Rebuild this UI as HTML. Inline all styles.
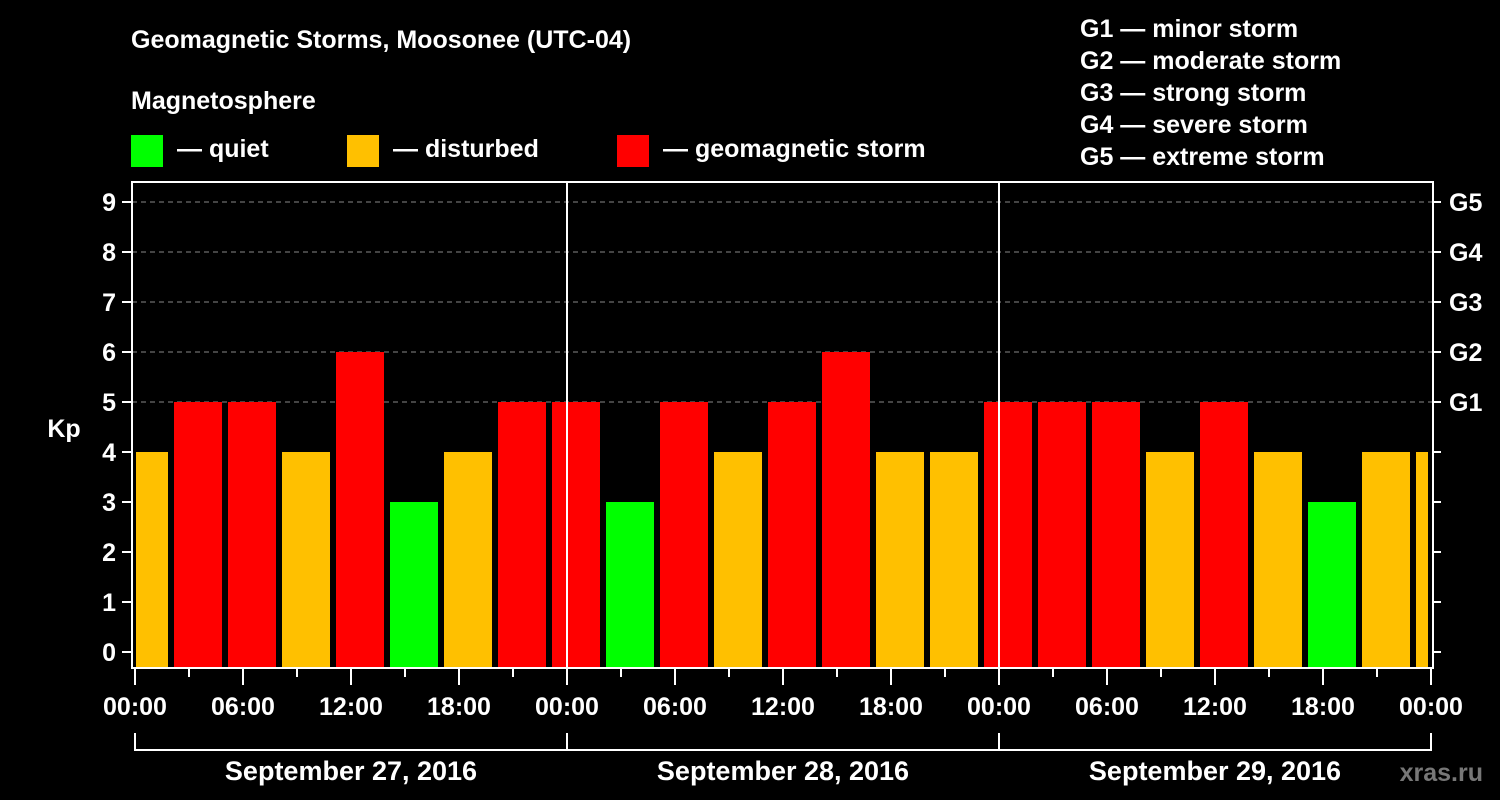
<!DOCTYPE html>
<html><head><meta charset="utf-8"><style>
html,body{margin:0;padding:0;background:#000;}
svg{display:block;font-family:"Liberation Sans",Arial,sans-serif;font-weight:bold;}
</style></head><body>
<svg id="chart" width="1500" height="800" viewBox="0 0 1500 800">
<rect x="0" y="0" width="1500" height="800" fill="#000"/>
<text x="131" y="48" fill="#fff" font-size="25">Geomagnetic Storms, Moosonee (UTC-04)</text>
<text x="131" y="109" fill="#fff" font-size="25">Magnetosphere</text>
<g><rect x="131" y="135" width="32" height="32" fill="#00ff00"/><text x="177" y="157" fill="#fff" font-size="25">— quiet</text></g>
<g><rect x="347" y="135" width="32" height="32" fill="#ffc000"/><text x="393" y="157" fill="#fff" font-size="25">— disturbed</text></g>
<g><rect x="617" y="135" width="32" height="32" fill="#ff0000"/><text x="663" y="157" fill="#fff" font-size="25">— geomagnetic storm</text></g>
<g fill="#fff" font-size="25">
<text x="1080" y="37">G1 — minor storm</text>
<text x="1080" y="69">G2 — moderate storm</text>
<text x="1080" y="101">G3 — strong storm</text>
<text x="1080" y="133">G4 — severe storm</text>
<text x="1080" y="165">G5 — extreme storm</text>
</g>
<text x="64" y="437" fill="#fff" font-size="25" text-anchor="middle">Kp</text>
<text x="1483" y="781" fill="#777" font-size="25" text-anchor="end">xras.ru</text>
<g id="grid"></g>
<g id="bars"></g>
<g id="axes"></g>
</svg>
<script>
const kpValues=[4,5,5,4,6,3,4,5,5,3,5,4,5,6,4,4,5,5,5,4,5,4,3,4,4];
const yTicks=[0,1,2,3,4,5,6,7,8,9];
const gLabels=["G1","G2","G3","G4","G5"];
const gLevels=[5,6,7,8,9];
const timeLabels=["00:00","06:00","12:00","18:00","00:00","06:00","12:00","18:00","00:00","06:00","12:00","18:00","00:00"];
const dayLabels=["September 27, 2016","September 28, 2016","September 29, 2016"];
const NS="http://www.w3.org/2000/svg";
const X0=135,PXH=18,L=132,R=1433,T=182,B=668;
const xs=h=>X0+h*PXH;
const ys=v=>652-v*50;
function mk(tag,attrs,parent){const e=document.createElementNS(NS,tag);for(const k in attrs)e.setAttribute(k,attrs[k]);parent.appendChild(e);return e;}
const grid=document.getElementById('grid'),bars=document.getElementById('bars'),axes=document.getElementById('axes');
gLevels.forEach(v=>{const l=mk('line',{x1:L,x2:R,y1:ys(v),y2:ys(v),stroke:'#888','stroke-width':1,'stroke-dasharray':'5,4'},grid);

});
kpValues.forEach((v,i)=>{const c=xs(0.5+3*i);let x1=Math.max(c-24,136),x2=Math.min(c+24,1428);
const col=v<=3?'#00ff00':(v==4?'#ffc000':'#ff0000');
const r=mk('rect',{x:x1,y:ys(v),width:x2-x1,height:B-ys(v),fill:col},bars);

});
// day lines
[1,2].forEach(d=>{const l=mk('line',{x1:xs(24*d),x2:xs(24*d),y1:T,y2:B,stroke:'#fff','stroke-width':2},axes);

});
const fr=mk('rect',{x:L,y:T,width:R-L,height:B-T,fill:'none',stroke:'#fff','stroke-width':2},axes);


yTicks.forEach(v=>{mk('line',{x1:122,x2:L,y1:ys(v),y2:ys(v),stroke:'#fff','stroke-width':2},axes);
mk('line',{x1:R,x2:1441,y1:ys(v),y2:ys(v),stroke:'#fff','stroke-width':2},axes);
const t=mk('text',{x:116,y:ys(v)+9,fill:'#fff','font-size':25,'text-anchor':'end'},axes);t.textContent=v;

});
gLabels.forEach((g,i)=>{const t=mk('text',{x:1449,y:ys(gLevels[i])+9,fill:'#fff','font-size':25},axes);t.textContent=g;

});
for(let h=0;h<=72;h+=3){const major=h%6==0;mk('line',{x1:xs(h),x2:xs(h),y1:B,y2:major?685:677,stroke:'#fff','stroke-width':2},axes);}
timeLabels.forEach((s,i)=>{const t=mk('text',{x:xs(6*i),y:715,fill:'#fff','font-size':25,'text-anchor':'middle'},axes);t.textContent=s;

});
dayLabels.forEach((s,i)=>{const a=xs(24*i),b=xs(24*(i+1));
mk('path',{d:`M${a},733V750H${b}V733`,fill:'none',stroke:'#fff','stroke-width':2},axes);
const t=mk('text',{x:(a+b)/2,y:780,fill:'#fff','font-size':27,'text-anchor':'middle'},axes);t.textContent=s;

});
</script>
</body></html>
